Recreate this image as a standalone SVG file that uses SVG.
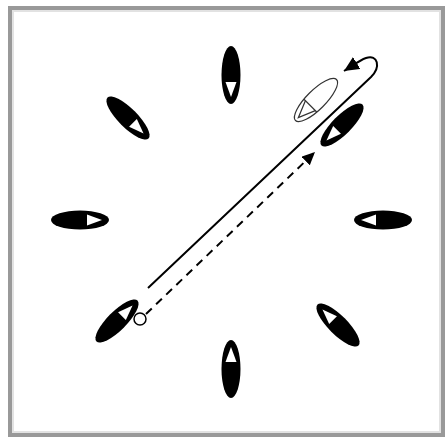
<svg xmlns="http://www.w3.org/2000/svg" width="445" height="437" viewBox="0 0 445 437">
<defs>
<style>
.body{fill:#000}
.tri{fill:#fff}
.ghost{fill:none;stroke:#333;stroke-width:1.2}
.solid{fill:none;stroke:#000;stroke-width:2}
.dash{fill:none;stroke:#000;stroke-width:2;stroke-dasharray:8 6}
</style>
<g id="shoe">
<ellipse class="body" cx="0" cy="0" rx="29" ry="9.5"/>
<polygon class="tri" points="7,-5.5 7,5.5 22,0"/>
</g>
<marker id="ah" markerUnits="userSpaceOnUse" markerWidth="16" markerHeight="14" refX="15" refY="7" orient="auto">
<path d="M0,0 L15,7 L0,14 z" fill="#000"/>
</marker>
<marker id="ahs" markerUnits="userSpaceOnUse" markerWidth="14" markerHeight="12" refX="13" refY="6" orient="auto">
<path d="M0,0 L13,6 L0,12 z" fill="#000"/>
</marker>
</defs>
<rect x="10" y="8" width="433" height="427" fill="#fff" stroke="#999" stroke-width="4"/>
<rect x="13" y="11" width="427" height="421" fill="none" stroke="#e2e2e2" stroke-width="2"/>
<g id="n12"><use href="#shoe" transform="translate(231,75) rotate(90)"/></g>
<g id="n1"><use href="#shoe" transform="translate(342,125) rotate(135)"/></g>
<g id="n3"><use href="#shoe" transform="translate(383,220) rotate(180)"/></g>
<g id="n4"><use href="#shoe" transform="translate(338,325) rotate(225)"/></g>
<g id="n6"><use href="#shoe" transform="translate(231,369) rotate(270)"/></g>
<g id="n7"><use href="#shoe" transform="translate(117,321) rotate(-45)"/></g>
<g id="n9"><use href="#shoe" transform="translate(80,220)"/></g>
<g id="n10"><use href="#shoe" transform="translate(128,118) rotate(45)"/></g>
<g id="ghost" transform="translate(316,100) rotate(135)">
<ellipse class="ghost" cx="0" cy="0" rx="29" ry="9.5"/>
<line class="ghost" x1="8" y1="-9" x2="8" y2="9"/>
<polyline class="ghost" points="8,-7 25,0 8,7"/>
</g>
<g id="start"><circle cx="140" cy="319" r="6" fill="#fff" stroke="#000" stroke-width="1.5"/></g>
<g id="connectors">
<path class="solid" d="M148,288 L371,77 C381,67 378,54 366,58 C360,60 352,66 344,71" marker-end="url(#ah)"/>
<path class="dash" d="M146,314 L315,152" marker-end="url(#ahs)"/>
</g>
</svg>
